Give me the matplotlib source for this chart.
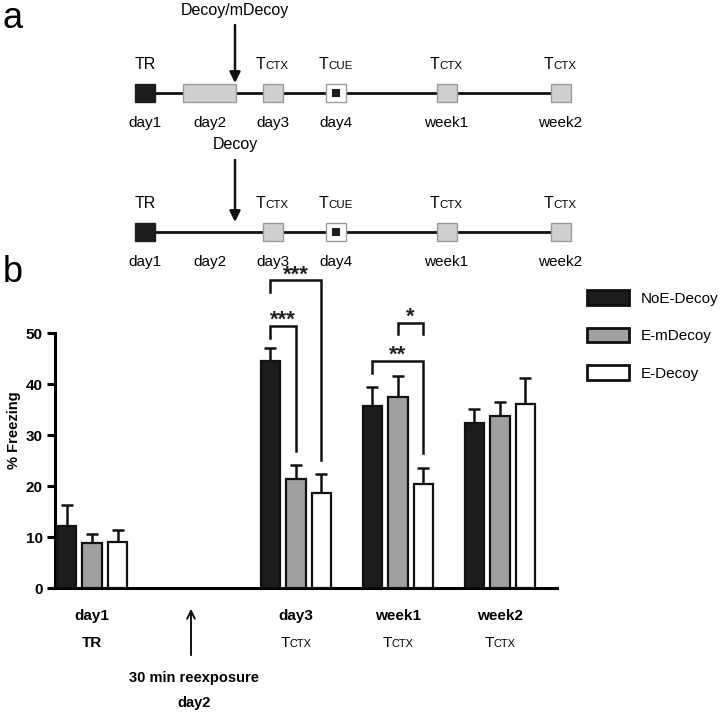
import matplotlib
matplotlib.use('Agg')
import matplotlib.pyplot as plt
from matplotlib.patches import Rectangle, Patch
import numpy as np

plt.rcParams['font.family'] = ['Liberation Sans', 'DejaVu Sans']

# ---------------- data (panel b) ----------------
groups = ['day1', 'day2', 'day3', 'week1', 'week2']
bar_groups = ['day1', 'day3', 'week1', 'week2']
sub_labels = {'day1': ('TR', ''), 'day3': ('T', 'CTX'), 'week1': ('T', 'CTX'), 'week2': ('T', 'CTX')}
series = ['NoE-Decoy', 'E-mDecoy', 'E-Decoy']
noe_mean = [12.2, 44.5, 35.7, 32.3]
noe_err = [4.0, 2.6, 3.8, 2.9]
emd_mean = [8.8, 21.4, 37.4, 33.7]
emd_err = [1.8, 2.7, 4.2, 2.7]
ed_mean = [9.1, 18.7, 20.4, 36.1]
ed_err = [2.3, 3.6, 3.1, 5.2]
yticks = [0, 10, 20, 30, 40, 50]
# significance brackets: group, series i, series j, top, left end, right end, label
sig_group = ['day3', 'day3', 'week1', 'week1']
sig_i = [0, 0, 0, 1]
sig_j = [1, 2, 2, 2]
sig_top = [51.4, 60.4, 44.6, 52.0]
sig_left = [49.0, 58.0, 42.1, 49.8]
sig_right = [26.9, 25.1, 26.5, 49.8]
sig_label = ['***', '***', '**', '*']

# ---------------- data (panel a) ----------------
events = ['day1', 'day2', 'day3', 'day4', 'week1', 'week2']
event_top = [('TR', ''), ('', ''), ('T', 'CTX'), ('T', 'CUE'), ('T', 'CTX'), ('T', 'CTX')]
event_kind_row1 = ['train', 'reexp', 'ctx', 'cue', 'ctx', 'ctx']
event_kind_row2 = ['train', 'none', 'ctx', 'cue', 'ctx', 'ctx']
row_injection = ['Decoy/mDecoy', 'Decoy']

colors = ['#1c1c1c', '#a0a0a0', '#ffffff']

fig = plt.figure(figsize=(7.2, 7.12), dpi=100)

# overlay axes in pixel coordinates for schematic / labels
axp = fig.add_axes([0, 0, 1, 1])
axp.set_xlim(0, 720)
axp.set_ylim(712, 0)
axp.axis('off')
axp.patch.set_visible(False)

# ---------------- panel b ----------------
ax = fig.add_axes([55/720, 124/712, 502/720, 316/712])
ax.patch.set_visible(False)
pos = {g: i for i, g in enumerate(groups)}
xg = np.array([pos[g] for g in bar_groups], dtype=float)
off = 0.25
bw = 0.19
means = [noe_mean, emd_mean, ed_mean]
errs = [noe_err, emd_err, ed_err]
for k in range(3):
    ax.bar(xg + (k - 1) * off, means[k], bw, color=colors[k], edgecolor='#111111',
           linewidth=1.6, zorder=3)
    ax.errorbar(xg + (k - 1) * off, means[k], yerr=[np.zeros(len(xg)), errs[k]],
                fmt='none', ecolor='#111111', elinewidth=1.8, capsize=4, capthick=1.8, zorder=2)
ax.set_xlim(-0.363, 4.56)
ax.set_ylim(0, 62)
ax.spines['top'].set_visible(False)
ax.spines['right'].set_visible(False)
ax.spines['left'].set_bounds(0, 50)
ax.spines['left'].set_linewidth(2.2)
ax.spines['bottom'].set_linewidth(2.2)
ax.set_yticks(yticks)
ax.set_yticklabels([str(t) for t in yticks], fontsize=11, fontweight='bold')
ax.tick_params(axis='y', length=6, width=2.2, pad=3)
ax.set_xticks([pos[g] for g in bar_groups])
ax.set_xticklabels(bar_groups, fontsize=11, fontweight='bold')
ax.tick_params(axis='x', length=0, pad=15)
ax.set_ylabel('% Freezing', fontsize=10.5, fontweight='bold', labelpad=3)

for g, i, j, top, yl, yr, lab in zip(sig_group, sig_i, sig_j, sig_top, sig_left, sig_right, sig_label):
    xi = pos[g] + (i - 1) * off
    xj = pos[g] + (j - 1) * off
    ax.plot([xi, xi, xj, xj], [yl, top, top, yr], color='#111111', lw=1.8,
            clip_on=False, solid_joinstyle='miter')
    ax.text((xi + xj) / 2, top - 1.0, lab, ha='center', va='bottom', fontsize=16,
            fontweight='bold', color='#222222')

handles = [Patch(facecolor=c, edgecolor='#111111', linewidth=2) for c in colors]
ax.legend(handles, series, loc='upper left', bbox_to_anchor=(587/720, 1 - 290/712),
          bbox_transform=fig.transFigure, frameon=False, fontsize=11,
          handlelength=2.75, handleheight=1.1, labelspacing=1.45, handletextpad=0.75,
          borderaxespad=0, borderpad=0)

fig.canvas.draw()
renderer = fig.canvas.get_renderer()


def to_px(x, y):
    dx, dy = ax.transData.transform((x, y))
    return axp.transData.inverted().transform((dx, dy))


def smallcaps(x, yb, big, small, size, ratio=0.72, weight='normal'):
    t1 = axp.text(x, yb, big, fontsize=size, ha='left', va='baseline', fontweight=weight)
    t2 = axp.text(x, yb, small, fontsize=size * ratio, ha='left', va='baseline', fontweight=weight)
    w1 = t1.get_window_extent(renderer).width
    w2 = t2.get_window_extent(renderer).width if small else 0
    x0 = x - (w1 + w2) / 2
    t1.set_x(x0)
    t2.set_x(x0 + w1)


for g in bar_groups:
    px, _ = to_px(pos[g], 0)
    big, small = sub_labels[g]
    smallcaps(px, 647, big, small, 11, weight='bold' if not small else 'normal')

px2, _ = to_px(pos['day2'], 0)
axp.annotate('', xy=(px2 - 3, 606), xytext=(px2 - 3, 658),
             arrowprops=dict(arrowstyle='->', lw=1.4, color='#111111', mutation_scale=14))
axp.text(px2, 678, '30 min reexposure', ha='center', va='center', fontsize=10.5, fontweight='bold')
axp.text(px2, 703, 'day2', ha='center', va='center', fontsize=10.5, fontweight='bold')

# ---------------- panel a ----------------
ev_x = [145, 209.5, 272.5, 336, 446.5, 560.5]
row_y = [93, 232]
box_w, box_h = 20, 18
for r, (ly, kinds) in enumerate(zip(row_y, [event_kind_row1, event_kind_row2])):
    axp.plot([ev_x[0], ev_x[-1]], [ly, ly], color='#111111', lw=2, zorder=1)
    for ex, kind, ev, top in zip(ev_x, kinds, events, event_top):
        if kind == 'train':
            axp.add_patch(Rectangle((ex - box_w/2, ly - box_h/2), box_w, box_h,
                                    facecolor='#1c1c1c', edgecolor='#1c1c1c', lw=1, zorder=2))
        elif kind == 'reexp':
            axp.add_patch(Rectangle((183, ly - box_h/2), 53, box_h,
                                    facecolor='#cfcfcf', edgecolor='#9a9a9a', lw=1, zorder=2))
        elif kind == 'ctx':
            axp.add_patch(Rectangle((ex - box_w/2, ly - box_h/2), box_w, box_h,
                                    facecolor='#cfcfcf', edgecolor='#9a9a9a', lw=1, zorder=2))
        elif kind == 'cue':
            axp.add_patch(Rectangle((ex - box_w/2, ly - box_h/2), box_w, box_h,
                                    facecolor='white', edgecolor='#9a9a9a', lw=1, zorder=2))
            axp.add_patch(Rectangle((ex - 4, ly - 4), 8, 8,
                                    facecolor='#1c1c1c', edgecolor='none', zorder=3))
        axp.text(ex, ly + 30, ev, ha='center', va='center', fontsize=11)
        if top[0]:
            smallcaps(ex, ly - 24, top[0], top[1], 11.5)
    ax_x = 235
    axp.annotate('', xy=(ax_x, ly - 10), xytext=(ax_x, ly - 68 if r == 0 else ly - 72),
                 arrowprops=dict(arrowstyle='-|>', lw=1.8, color='#111111', mutation_scale=16,
                                 shrinkA=0, shrinkB=0))
    axp.text(ax_x, ly - 82 if r == 0 else ly - 88, row_injection[r], ha='center', va='center', fontsize=11.5)

axp.text(3, 18, 'a', ha='left', va='center', fontsize=26)
axp.text(3, 272, 'b', ha='left', va='center', fontsize=26)

fig.savefig('out.png', dpi=100)
